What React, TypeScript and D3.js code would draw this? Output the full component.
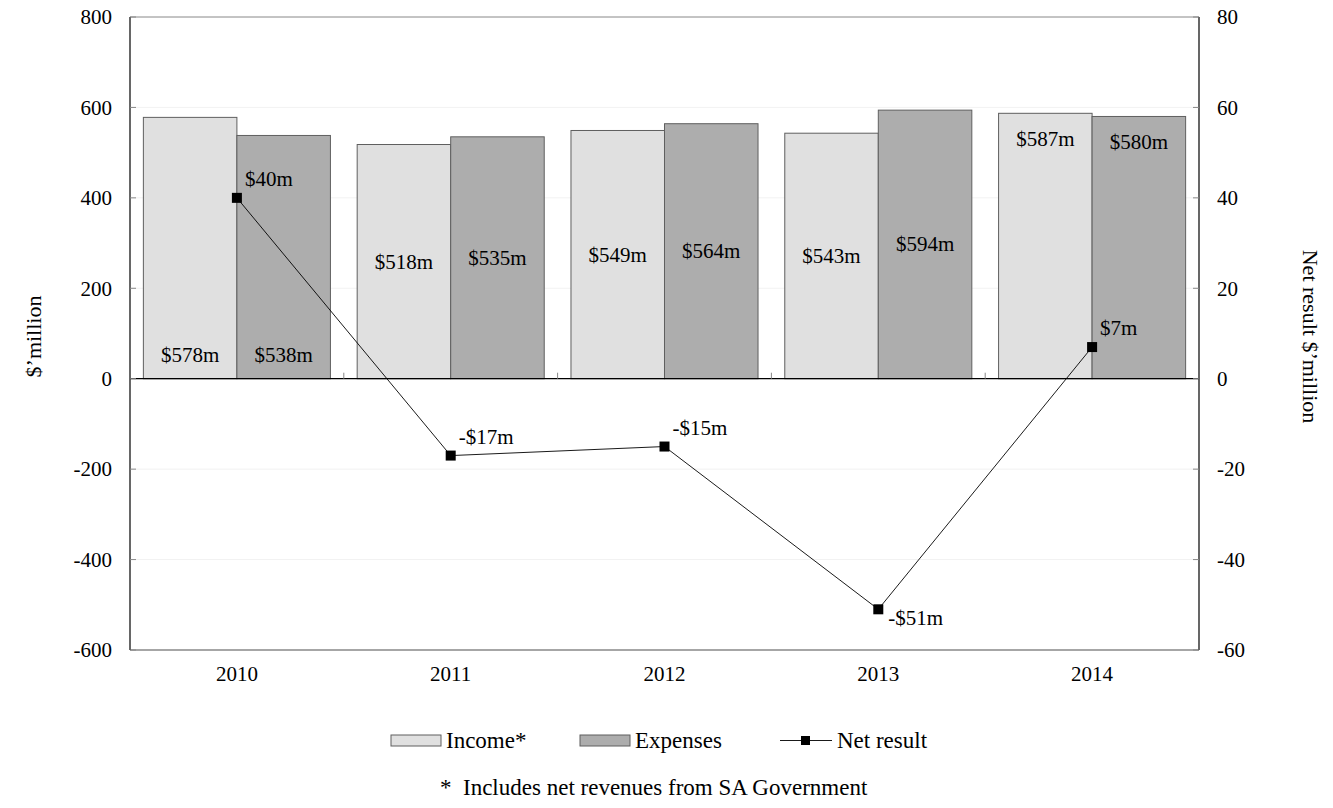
import { useRef, useEffect } from "react";
import * as d3 from "d3";

const years = ["2010", "2011", "2012", "2013", "2014"];
const income = [578, 518, 549, 543, 587];
const expenses = [538, 535, 564, 594, 580];
const netResult = [40, -17, -15, -51, 7];
// where each year's bar labels sit inside the bar
const barLabelPlace = ["base", "center", "center", "center", "end"];
// net result label above or below the marker
const netLabelPlace = ["above", "above", "above", "below", "above"];
const leftTicks = [-600, -400, -200, 0, 200, 400, 600, 800];
const rightTicks = [-60, -40, -20, 0, 20, 40, 60, 80];

export default function App() {
  const chartRef = useRef<HTMLDivElement>(null);

  useEffect(() => {
    if (!chartRef.current) return;
    d3.select(chartRef.current).selectAll("*").remove();

    const width = 1333;
    const height = 808;
    const margin = { top: 17, right: 134, bottom: 158, left: 130 };
    const font = "Liberation Serif, Times New Roman, serif";
    const fmt = (v: number) => (v < 0 ? `-${Math.abs(v)}` : `${v}`);

    const svg = d3
      .select(chartRef.current)
      .append("svg")
      .attr("width", width)
      .attr("height", height)
      .attr("font-family", font)
      .style("display", "block");

    const x0 = d3
      .scaleBand()
      .domain(years)
      .range([margin.left, width - margin.right])
      .padding(0);

    const x1 = d3
      .scaleBand()
      .domain(["income", "expenses"])
      .range([0, x0.bandwidth()])
      .paddingInner(0)
      .paddingOuter(0.143);

    const yL = d3
      .scaleLinear()
      .domain([-600, 800])
      .range([height - margin.bottom, margin.top]);

    const yR = d3
      .scaleLinear()
      .domain([-60, 80])
      .range([height - margin.bottom, margin.top]);

    const left = margin.left;
    const right = width - margin.right;

    // faint gridlines
    svg
      .append("g")
      .selectAll("line")
      .data(leftTicks.filter((t) => t !== 0 && t !== -600 && t !== 800))
      .enter()
      .append("line")
      .attr("x1", left)
      .attr("x2", right)
      .attr("y1", (d) => yL(d))
      .attr("y2", (d) => yL(d))
      .attr("stroke", "#f2f2f2");

    // bars
    const rows = years.map((y, i) => ({ year: y, i, income: income[i], expenses: expenses[i] }));
    const groups = svg
      .append("g")
      .selectAll("g")
      .data(rows)
      .enter()
      .append("g")
      .attr("transform", (d) => `translate(${x0(d.year)},0)`);

    const barData = (d: any) => [
      { key: "income", value: d.income, i: d.i },
      { key: "expenses", value: d.expenses, i: d.i },
    ];

    groups
      .selectAll("rect")
      .data(barData)
      .enter()
      .append("rect")
      .attr("x", (d) => x1(d.key)!)
      .attr("width", x1.bandwidth())
      .attr("y", (d) => yL(d.value))
      .attr("height", (d) => yL(0) - yL(d.value))
      .attr("fill", (d) => (d.key === "income" ? "#e0e0e0" : "#adadad"))
      .attr("stroke", "#5f5f5f")
      .attr("stroke-width", 1);

    groups
      .selectAll("text")
      .data(barData)
      .enter()
      .append("text")
      .attr("x", (d) => x1(d.key)! + x1.bandwidth() / 2)
      .attr("y", (d) => {
        const place = barLabelPlace[d.i];
        if (place === "base") return yL(0) - 17;
        if (place === "end") return yL(d.value) + 33;
        return yL(d.value / 2) + 7;
      })
      .attr("text-anchor", "middle")
      .attr("font-family", font)
      .attr("font-size", "21px")
      .attr("fill", "#000")
      .text((d) => `$${d.value}m`);

    // plot frame
    svg
      .append("line")
      .attr("x1", left)
      .attr("x2", right)
      .attr("y1", margin.top)
      .attr("y2", margin.top)
      .attr("stroke", "#888");
    svg
      .append("line")
      .attr("x1", left)
      .attr("x2", right)
      .attr("y1", height - margin.bottom)
      .attr("y2", height - margin.bottom)
      .attr("stroke", "#888")
      .attr("stroke-width", 1.5);

    // zero line with category ticks
    svg
      .append("line")
      .attr("x1", left)
      .attr("x2", right)
      .attr("y1", yL(0))
      .attr("y2", yL(0))
      .attr("stroke", "#000")
      .attr("stroke-width", 1.2);
    svg
      .append("g")
      .selectAll("line")
      .data(years.slice(1))
      .enter()
      .append("line")
      .attr("x1", (d) => x0(d)!)
      .attr("x2", (d) => x0(d)!)
      .attr("y1", yL(0) - 6)
      .attr("y2", yL(0))
      .attr("stroke", "#888");

    // left axis
    const leftAxis = svg.append("g");
    leftAxis
      .append("line")
      .attr("x1", left)
      .attr("x2", left)
      .attr("y1", margin.top)
      .attr("y2", height - margin.bottom)
      .attr("stroke", "#000")
      .attr("stroke-width", 1.2);
    leftAxis
      .selectAll("line.tick")
      .data(leftTicks)
      .enter()
      .append("line")
      .attr("class", "tick")
      .attr("x1", left)
      .attr("x2", left + 6)
      .attr("y1", (d) => yL(d))
      .attr("y2", (d) => yL(d))
      .attr("stroke", "#888");
    leftAxis
      .selectAll("text")
      .data(leftTicks)
      .enter()
      .append("text")
      .attr("x", left - 18)
      .attr("y", (d) => yL(d))
      .attr("dy", "0.35em")
      .attr("text-anchor", "end")
      .attr("font-family", font)
      .attr("font-size", "21px")
      .text((d) => fmt(d));

    // right axis
    const rightAxis = svg.append("g");
    rightAxis
      .append("line")
      .attr("x1", right)
      .attr("x2", right)
      .attr("y1", margin.top)
      .attr("y2", height - margin.bottom)
      .attr("stroke", "#000")
      .attr("stroke-width", 1.2);
    rightAxis
      .selectAll("line.tick")
      .data(rightTicks)
      .enter()
      .append("line")
      .attr("class", "tick")
      .attr("x1", right - 6)
      .attr("x2", right)
      .attr("y1", (d) => yR(d))
      .attr("y2", (d) => yR(d))
      .attr("stroke", "#888");
    rightAxis
      .selectAll("text")
      .data(rightTicks)
      .enter()
      .append("text")
      .attr("x", right + 18)
      .attr("y", (d) => yR(d))
      .attr("dy", "0.35em")
      .attr("text-anchor", "start")
      .attr("font-family", font)
      .attr("font-size", "21px")
      .text((d) => fmt(d));

    // x labels
    svg
      .append("g")
      .selectAll("text")
      .data(years)
      .enter()
      .append("text")
      .attr("x", (d) => x0(d)! + x0.bandwidth() / 2)
      .attr("y", height - margin.bottom + 31)
      .attr("text-anchor", "middle")
      .attr("font-family", font)
      .attr("font-size", "21px")
      .text((d) => d);

    // axis titles
    const midY = (margin.top + height - margin.bottom) / 2 + 3;
    svg
      .append("text")
      .attr("transform", `translate(41,${midY}) rotate(-90)`)
      .attr("text-anchor", "middle")
      .attr("font-family", font)
      .attr("font-size", "22px")
      .text("$’million");
    svg
      .append("text")
      .attr("transform", `translate(1303,${midY}) rotate(90)`)
      .attr("text-anchor", "middle")
      .attr("font-family", font)
      .attr("font-size", "22px")
      .text("Net result $’million");

    // net result line
    const netPts = years.map((y, i) => ({
      x: x0(y)! + x0.bandwidth() / 2,
      y: yR(netResult[i]),
      v: netResult[i],
      i,
    }));
    svg
      .append("path")
      .datum(netPts)
      .attr("fill", "none")
      .attr("stroke", "#000")
      .attr("stroke-width", 0.9)
      .attr(
        "d",
        d3
          .line<any>()
          .x((d) => d.x)
          .y((d) => d.y)
      );
    svg
      .append("g")
      .selectAll("rect")
      .data(netPts)
      .enter()
      .append("rect")
      .attr("x", (d) => d.x - 5)
      .attr("y", (d) => d.y - 5)
      .attr("width", 10)
      .attr("height", 10)
      .attr("fill", "#000");
    svg
      .append("g")
      .selectAll("text")
      .data(netPts)
      .enter()
      .append("text")
      .attr("x", (d) => d.x + (netLabelPlace[d.i] === "below" ? 10 : 8))
      .attr("y", (d) => d.y + (netLabelPlace[d.i] === "below" ? 16 : -12))
      .attr("font-family", font)
      .attr("font-size", "21px")
      .text((d) => (d.v < 0 ? `-$${Math.abs(d.v)}m` : `$${d.v}m`));

    // legend
    const legend = svg.append("g").attr("font-size", "23px").attr("font-family", font);
    legend
      .append("rect")
      .attr("x", 391)
      .attr("y", 735)
      .attr("width", 50)
      .attr("height", 11)
      .attr("fill", "#e0e0e0")
      .attr("stroke", "#5f5f5f");
    legend.append("text").attr("x", 446).attr("y", 748).text("Income*");
    legend
      .append("rect")
      .attr("x", 580)
      .attr("y", 735)
      .attr("width", 50)
      .attr("height", 11)
      .attr("fill", "#adadad")
      .attr("stroke", "#5f5f5f");
    legend.append("text").attr("x", 635).attr("y", 748).text("Expenses");
    legend
      .append("line")
      .attr("x1", 780)
      .attr("x2", 832)
      .attr("y1", 740.5)
      .attr("y2", 740.5)
      .attr("stroke", "#000")
      .attr("stroke-width", 0.9);
    legend
      .append("rect")
      .attr("x", 801)
      .attr("y", 736)
      .attr("width", 9)
      .attr("height", 9)
      .attr("fill", "#000");
    legend.append("text").attr("x", 837).attr("y", 748).text("Net result");

    // footnote
    svg
      .append("text")
      .attr("x", 440)
      .attr("y", 795)
      .attr("font-family", font)
      .attr("font-size", "23px")
      .style("white-space", "pre")
      .text("*  Includes net revenues from SA Government");
  }, []);

  return (
    <div style={{ margin: -8 }}>
      <div ref={chartRef}></div>
    </div>
  );
}
